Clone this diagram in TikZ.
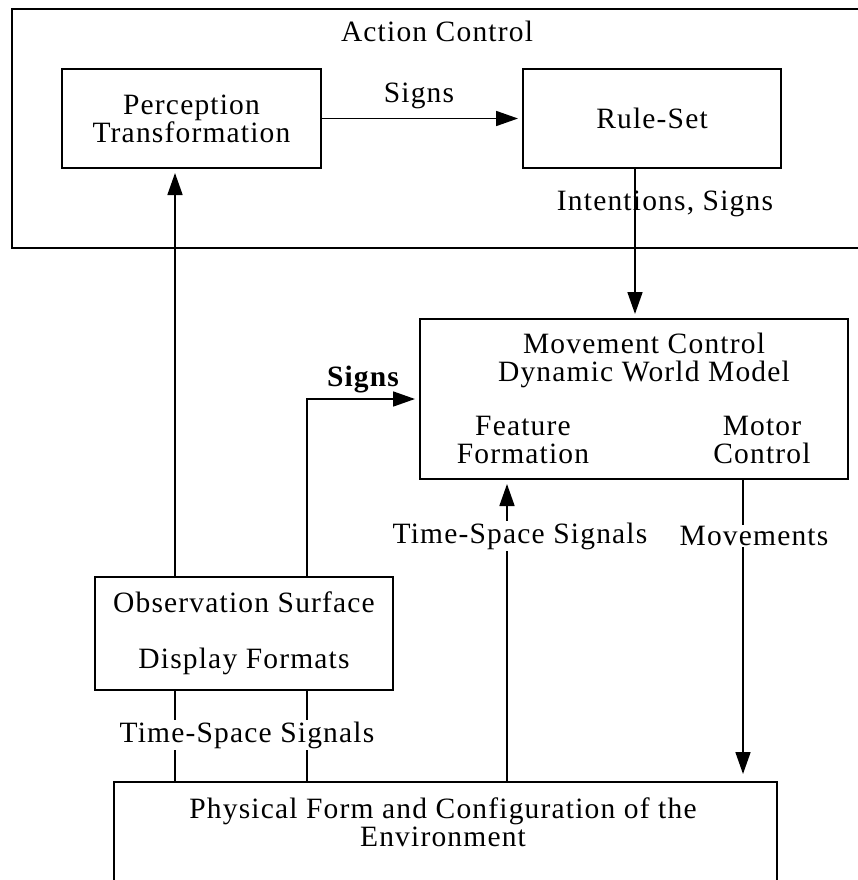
\documentclass[tikz,border=0pt]{standalone}
\usepackage{fontspec}
\setmainfont{Liberation Serif}[LetterSpace=4]
\usetikzlibrary{arrows.meta}

\begin{document}
\begin{tikzpicture}[x=1pt,y=-1pt,
  font=\fontsize{29.5}{28}\selectfont,
  box/.style={draw, line width=2pt, inner sep=0pt, anchor=north west, align=center},
  conn/.style={line width=1.7pt},
  arr/.style={conn, -{Triangle[length=22pt,width=15pt]}, shorten >=4pt},
  lbl/.style={inner sep=0pt, align=center},
  gaplbl/.style={lbl, fill=white, inner ysep=1.5pt, inner xsep=2pt}]

\useasboundingbox (0,0) rectangle (858,880);
\clip (0,0) rectangle (858,880);

% action control frame
\node[box, minimum width=852pt, minimum height=239pt] (ac) at (10.5,8) {};
\node[lbl] (actitle) at (437,31) {Action Control};

% boxes
\node[box, minimum width=259pt, minimum height=99pt] (perc) at (61,68)
  {Perception\\Transformation};
\node[box, minimum width=258pt, minimum height=99pt] (rule) at (522,68) {Rule-Set};
\node[box, minimum width=428pt, minimum height=160pt] (move) at (419,318) {};
\node[box, minimum width=298pt, minimum height=113pt] (obs) at (94,576)
  {Observation Surface\\[28pt]Display Formats};
\node[box, minimum width=663pt, minimum height=140pt] (phys) at (113,781) {};

% texts inside the movement and environment boxes
\node[lbl] (mvtitle) at (644,360) {Movement Control\\Dynamic World Model};
\node[lbl] (feat) at (523,440) {Feature\\Formation};
\node[lbl] (motor) at (762,440) {Motor\\Control};
\node[lbl] (phystext) at (443,822) {Physical Form and Configuration of the\\Environment};

% connector positions
\coordinate (xL) at (175,0);
\coordinate (xS) at (307,0);
\coordinate (xR) at (635,0);
\coordinate (xT) at (507,0);
\coordinate (xM) at (743,0);
\coordinate (yS) at (0,399);

% connectors
\draw[arr] (perc.east) -- (rule.west);
\node[lbl] (signsA) at (419,96) {Signs};

\draw[arr] (rule.south -| xR) -- (move.north -| xR);
\node[lbl] (intent) at (665,204) {Intentions, Signs};

\draw[arr] (obs.north -| xL) -- (perc.south -| xL);
\draw[arr] (obs.north -| xS) |- (move.west |- yS);
\node[lbl] (signsB) at (363,380) {\bfseries Signs};

\draw[conn] (obs.south -| xL) -- (phys.north -| xL);
\draw[conn] (obs.south -| xS) -- (phys.north -| xS);
\node[gaplbl] (tsA) at (247,735) {Time-Space Signals};

\draw[arr] (phys.north -| xT) -- (move.south -| xT);
\node[gaplbl] (tsB) at (520,536) {Time-Space Signals};

\draw[arr, shorten >=7pt] (move.south -| xM) -- (phys.north -| xM);
\node[gaplbl] (mov) at (754,536) {Movements};

\end{tikzpicture}
\end{document}
